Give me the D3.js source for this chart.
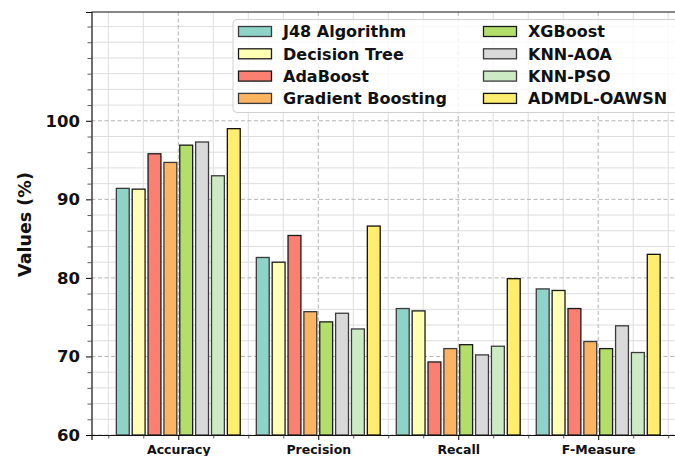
<!DOCTYPE html>
<html>
<head>
<meta charset="utf-8">
<script src="https://cdn.jsdelivr.net/npm/d3@7"></script>
<style>
  html, body { margin: 0; padding: 0; background: #fff; }
  svg { display: block; font-family: "DejaVu Sans", sans-serif; }
</style>
</head>
<body>
<svg id="chart" width="675" height="456"></svg>
<script>
// Metric categories on the x axis
const categories = ["Accuracy", "Precision", "Recall", "F-Measure"];

// Model names (legend order)
const models = ["J48 Algorithm", "Decision Tree", "AdaBoost", "Gradient Boosting",
                "XGBoost", "KNN-AOA", "KNN-PSO", "ADMDL-OAWSN"];

// Scores (%) per model, in category order
const j48          = [91.4, 82.6, 76.1, 78.6];
const decisionTree = [91.3, 82.0, 75.8, 78.4];
const adaBoost     = [95.8, 85.4, 69.3, 76.1];
const gradBoost    = [94.7, 75.7, 71.0, 71.9];
const xgBoost      = [96.9, 74.4, 71.5, 71.0];
const knnAoa       = [97.3, 75.5, 70.2, 73.9];
const knnPso       = [93.0, 73.5, 71.3, 70.5];
const admdl        = [99.0, 86.6, 79.9, 83.0];

const seriesValues = [j48, decisionTree, adaBoost, gradBoost, xgBoost, knnAoa, knnPso, admdl];

// Labelled y ticks
const yTickLabels = [60, 70, 80, 90, 100];

const fills  = ["#8dd3c7", "#ffffb3", "#fb8072", "#fdb462", "#b3de69", "#d9d9d9", "#ccebc5", "#ffed6f"];
const edges  = ["#3a3a3a", "#1a1a1a", "#1a1a1a", "#3a3a3a", "#1a1a1a", "#3a3a3a", "#3a3a3a", "#111111"];

const svg = d3.select("#chart");
const plot = { left: 91.5, right: 685, top: 12, bottom: 435 };

const yMax = d3.max(seriesValues.flat()) * 1.15;
const x = d3.scaleLinear().domain([-0.62, 3.62]).range([plot.left, plot.right]);
const y = d3.scaleLinear().domain([60, yMax]).range([plot.bottom, plot.top]);

const step = 0.1133, barW = 0.092;

// Grid: minor solid, major dashed
const grid = svg.append("g");
const xMinor = d3.range(-0.5, 3.51, 0.25).filter(v => Math.abs(v - Math.round(v)) > 1e-6);
const yMinor = d3.range(62, yMax, 2).filter(v => v % 10 !== 0 || v > 100);
grid.selectAll(".vx").data(xMinor).join("line")
  .attr("x1", d => x(d)).attr("x2", d => x(d)).attr("y1", plot.top).attr("y2", plot.bottom)
  .attr("stroke", "#dedede").attr("stroke-width", 1);
grid.selectAll(".hy").data(yMinor).join("line")
  .attr("x1", plot.left).attr("x2", plot.right).attr("y1", d => y(d)).attr("y2", d => y(d))
  .attr("stroke", "#dedede").attr("stroke-width", 1);
grid.selectAll(".vX").data(d3.range(categories.length)).join("line")
  .attr("x1", d => x(d)).attr("x2", d => x(d)).attr("y1", plot.top).attr("y2", plot.bottom)
  .attr("stroke", "#b4b4b4").attr("stroke-width", 1).attr("stroke-dasharray", "4,2.5");
grid.selectAll(".hY").data(yTickLabels).join("line")
  .attr("x1", plot.left).attr("x2", plot.right).attr("y1", d => y(d)).attr("y2", d => y(d))
  .attr("stroke", "#b4b4b4").attr("stroke-width", 1).attr("stroke-dasharray", "4,2.5");

// Bars
const bars = svg.append("g");
seriesValues.forEach((vals, i) => {
  bars.selectAll(null).data(vals).join("rect")
    .attr("x", (d, j) => x(j + (i - 3.5) * step - barW / 2))
    .attr("width", x(barW) - x(0))
    .attr("y", d => y(d))
    .attr("height", d => y(60) - y(d))
    .attr("fill", fills[i])
    .attr("stroke", edges[i])
    .attr("stroke-width", 1.3);
});

// Axes
const yAxis = d3.axisLeft(y).tickValues(yTickLabels).tickSize(5.5).tickPadding(6).tickFormat(d3.format("d"));
const gy = svg.append("g").attr("transform", `translate(${plot.left},0)`).call(yAxis);
gy.selectAll("text").attr("font-size", "16.5px").attr("font-weight", "bold")
  .attr("font-family", "DejaVu Sans").attr("fill", "#111");
gy.select(".domain").attr("stroke", "#111").attr("stroke-width", 1.2);
svg.append("g").attr("transform", `translate(${plot.left},0)`)
  .call(d3.axisLeft(y).tickValues(yMinor).tickSize(4).tickFormat(""))
  .call(g => g.select(".domain").remove())
  .selectAll("line").attr("stroke", "#333").attr("stroke-width", 0.8);

const xAxis = d3.axisBottom(x).tickValues(d3.range(categories.length)).tickSize(5).tickPadding(5)
  .tickFormat(i => categories[i]);
const gx = svg.append("g").attr("transform", `translate(0,${plot.bottom})`).call(xAxis);
gx.selectAll("text").attr("font-size", "12.5px").attr("font-weight", "bold")
  .attr("font-family", "DejaVu Sans").attr("fill", "#111");
gx.select(".domain").attr("stroke", "#111").attr("stroke-width", 1.2);
svg.append("g").attr("transform", `translate(0,${plot.bottom})`)
  .call(d3.axisBottom(x).tickValues(xMinor).tickSize(3.5).tickFormat(""))
  .call(g => g.select(".domain").remove())
  .selectAll("line").attr("stroke", "#333").attr("stroke-width", 0.8);

// Top spine
svg.append("line").attr("x1", plot.left).attr("x2", plot.right)
  .attr("y1", plot.top).attr("y2", plot.top).attr("stroke", "#111").attr("stroke-width", 1.2);

// Y label
svg.append("text")
  .attr("transform", `translate(25,${(plot.top + plot.bottom) / 2 + 1}) rotate(-90)`)
  .attr("text-anchor", "middle").attr("dominant-baseline", "central")
  .attr("font-size", "17.5px").attr("font-weight", "bold").attr("fill", "#111")
  .text("Values (%)");

// Legend
const legend = svg.append("g");
legend.append("rect").attr("x", 233).attr("y", 19.5).attr("width", 450).attr("height", 93)
  .attr("rx", 4).attr("fill", "#fff").attr("fill-opacity", 0.8)
  .attr("stroke", "#d0d0d0").attr("stroke-width", 1);
models.forEach((m, i) => {
  const col = Math.floor(i / 4), row = i % 4;
  const px = col === 0 ? 238.5 : 483.5;
  const tx = col === 0 ? 283 : 528;
  const cy = 31.5 + row * 22.3;
  legend.append("rect").attr("x", px).attr("y", cy - 5).attr("width", 33).attr("height", 10)
    .attr("fill", fills[i]).attr("stroke", edges[i]).attr("stroke-width", 1.3);
  legend.append("text").attr("x", tx).attr("y", cy + 5.8)
    .attr("font-size", "16px").attr("font-weight", "bold").attr("fill", "#111")
    .text(m);
});
</script>
</body>
</html>
